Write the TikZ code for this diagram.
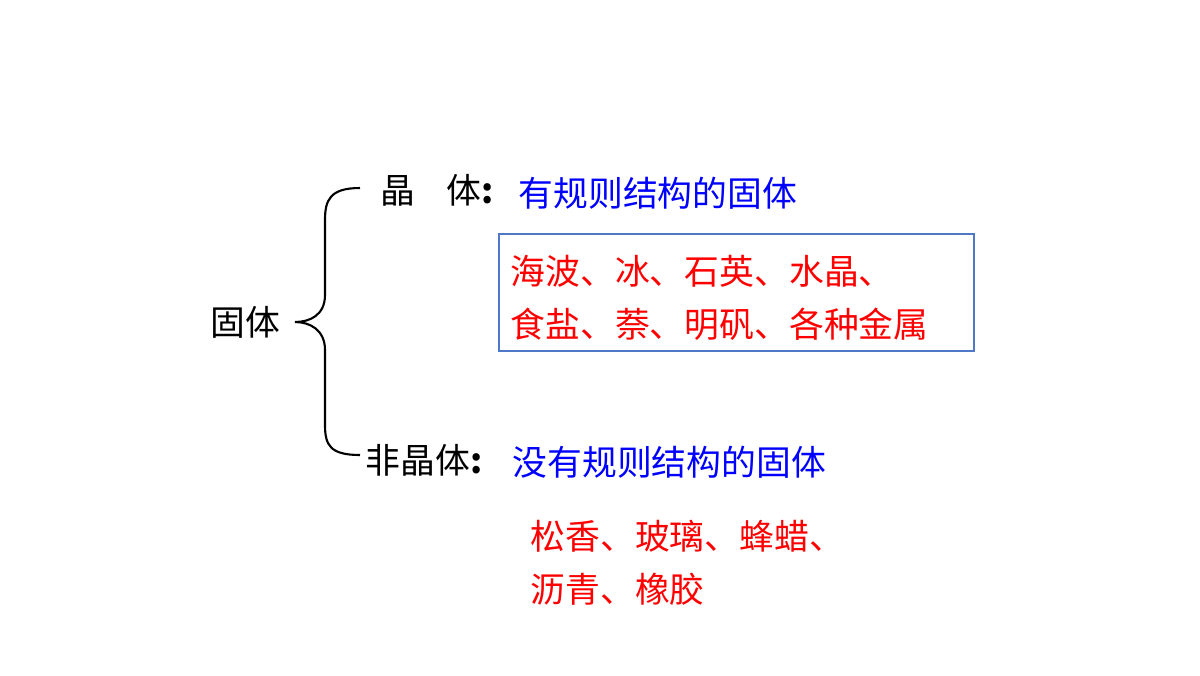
\documentclass[tikz,border=0pt]{standalone}
\usepackage{fontspec}
\newfontfamily\cjk{Noto Sans CJK SC}
\usetikzlibrary{positioning}
\tikzset{
  lbl/.style={inner sep=0, anchor=west, font=\cjk\fontsize{9.9}{11}\selectfont},
  def/.style={lbl, text=blue},
  ex/.style={lbl, text=red, align=left, font=\cjk\fontsize{9.9}{15.2}\selectfont}
}
\begin{document}
\begin{tikzpicture}[x=0.01cm, y=-0.01cm]
  \useasboundingbox (0,0) rectangle (1200,675);
  \node[lbl] (solid) at (210,322) {固体};

  % brace
  \coordinate (top) at (360,188);
  \coordinate (bot) at (360,455);
  \coordinate (tip) at (295,322);
  \draw[line width=0.6pt] (top) .. controls (330,188) and (325,200) .. (325,220)
    -- (325,295) .. controls (325,315) and (310,322) .. (tip)
    .. controls (310,322) and (325,330) .. (325,350)
    -- (325,425) .. controls (325,445) and (330,455) .. (bot);

  \node[lbl, font=\cjk\fontsize{9.9}{11}\selectfont] (cryst) at (380,190) {晶\hspace{0.9em}体\textbf{:}};
  \node[lbl, font=\cjk\fontsize{9.9}{11}\selectfont] (amor) at (365,460) {非晶体\textbf{:}};
  \node[def] (cdef) at (518,193) {有规则结构的固体};
  \node[def] (adef) at (512,462) {没有规则结构的固体};

  \draw[draw={rgb,255:red,80;green,120;blue,200}, line width=0.6pt] (499,234) rectangle (974,351);
  \node[ex] (cex) at (510,298) {海波、冰、石英、水晶、\\食盐、萘、明矾、各种金属};
  \node[ex] (aex) at (530,563) {松香、玻璃、蜂蜡、\\沥青、橡胶};
\end{tikzpicture}
\end{document}
